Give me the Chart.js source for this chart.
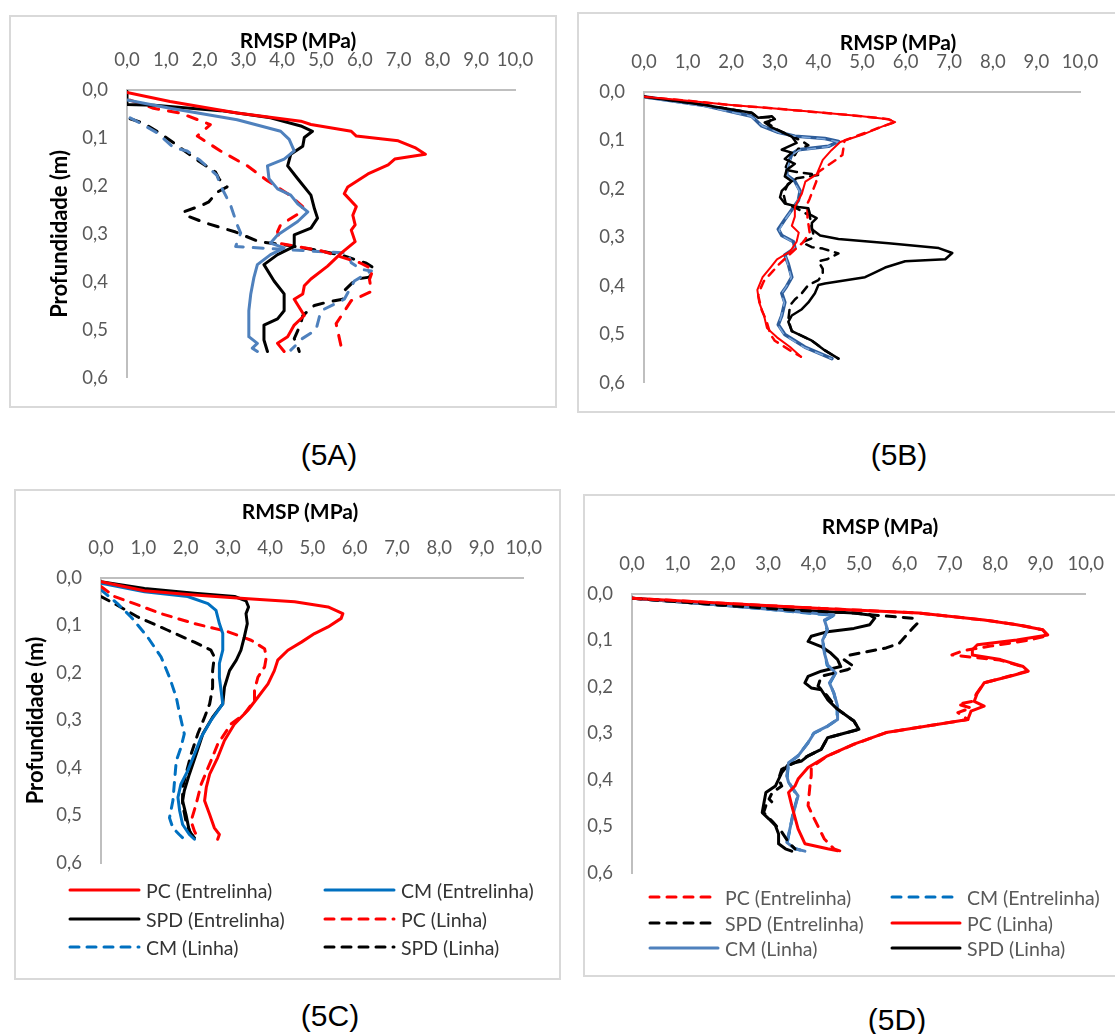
<!DOCTYPE html>
<html lang="pt">
<head>
<meta charset="utf-8">
<title>RMSP x Profundidade</title>
<script src="https://cdn.jsdelivr.net/npm/chart.js@4.4.1/dist/chart.umd.min.js"></script>
<style>
  html, body { margin: 0; padding: 0; background: #fff; }
  body { width: 1115px; height: 1034px; position: relative; overflow: hidden; font-family: Lato, "Open Sans", sans-serif; }
  .box { position: absolute; border: 2px solid #d9d9d9; box-sizing: border-box; }
  canvas.chart { position: absolute; }
  .xtitle { position: absolute; font-weight: bold; font-size: 21px; color: #000; transform: translate(-50%, -50%); white-space: nowrap; }
  .caption { position: absolute; font-family: "Liberation Sans", Arial, sans-serif; font-size: 30px; color: #000; transform: translate(-50%, -50%); }
  .leg { position: absolute; font-size: 19.5px; white-space: nowrap; }
  .leg svg { position: absolute; left: 0; top: 0; }
  .leg span { position: absolute; transform: translateY(-50%); }
</style>
</head>
<body>
<script>
const X_TICKS = ['0,0', '1,0', '2,0', '3,0', '4,0', '5,0', '6,0', '7,0', '8,0', '9,0', '10,0'];
const Y_TICKS = ['0,0', '0,1', '0,2', '0,3', '0,4', '0,5', '0,6'];
const SERIES_NAMES = ['PC (Entrelinha)', 'CM (Entrelinha)', 'SPD (Entrelinha)', 'PC (Linha)', 'CM (Linha)', 'SPD (Linha)'];

// [RMSP (MPa), profundidade (m)]
// 5A
const a_pcEnt = [[0,0.005],[1.11,0.024],[2.84,0.048],[4.48,0.065],[4.74,0.072],[5.78,0.086],[5.91,0.096],[6.99,0.106],[7.42,0.12],[7.69,0.134],[6.9,0.144],[6.73,0.156],[6.21,0.175],[5.69,0.202],[5.6,0.216],[5.91,0.243],[5.82,0.261],[5.88,0.281],[5.78,0.292],[5.88,0.316],[5.52,0.34],[5.17,0.367],[4.74,0.394],[4.57,0.408],[4.53,0.425],[4.31,0.436],[4.57,0.47],[4.31,0.49],[4.14,0.514],[3.88,0.528],[4.05,0.545]];
const a_cmEnt = [[0,0.021],[1.11,0.038],[2.84,0.062],[3.96,0.086],[4.18,0.103],[4.31,0.127],[4.05,0.144],[3.62,0.158],[3.66,0.185],[3.88,0.206],[4.22,0.219],[4.4,0.237],[4.66,0.254],[4.4,0.274],[3.88,0.302],[3.7,0.319],[4.05,0.329],[3.7,0.343],[3.36,0.364],[3.27,0.391],[3.19,0.425],[3.14,0.46],[3.14,0.514],[3.36,0.528],[3.23,0.538],[3.36,0.545]];
const a_spdEnt = [[0,0.003],[0,0.03],[0.7,0.032],[2.41,0.043],[3.7,0.058],[4.48,0.075],[4.78,0.086],[4.57,0.099],[4.53,0.117],[4.22,0.134],[4.14,0.158],[4.4,0.185],[4.74,0.219],[4.83,0.247],[4.91,0.267],[4.74,0.288],[4.31,0.302],[4.31,0.326],[3.88,0.343],[3.53,0.364],[3.79,0.398],[4.05,0.425],[4.05,0.46],[3.88,0.477],[3.53,0.49],[3.53,0.521],[3.62,0.545]];
const a_pcLin = [[0.08,0.021],[0.68,0.038],[1.37,0.048],[2.15,0.072],[1.81,0.096],[2.41,0.127],[3.1,0.158],[3.62,0.189],[4.14,0.216],[4.53,0.243],[4.5,0.254],[3.96,0.281],[3.88,0.295],[3.95,0.32],[5.0,0.335],[6.0,0.36],[6.34,0.374],[6.25,0.395],[6.3,0.42],[5.78,0.439],[5.39,0.487],[5.52,0.535],[5.57,0.545]];
const a_cmLin = [[0.08,0.058],[0.34,0.069],[0.77,0.089],[1.2,0.12],[1.55,0.127],[1.89,0.147],[2.32,0.178],[2.41,0.199],[2.67,0.24],[2.84,0.281],[2.93,0.298],[2.8,0.326],[4.2,0.333],[5.69,0.34],[5.78,0.36],[6.04,0.374],[6.3,0.377],[5.86,0.398],[5.6,0.436],[5.0,0.46],[4.87,0.5],[4.48,0.52],[4.4,0.528],[4.22,0.542]];
const a_spdLin = [[0.08,0.06],[0.42,0.069],[0.77,0.086],[1.2,0.11],[1.72,0.141],[2.28,0.171],[2.37,0.185],[2.58,0.202],[2.32,0.213],[2.11,0.233],[1.94,0.24],[1.46,0.254],[1.5,0.261],[2.06,0.278],[2.8,0.296],[3.4,0.316],[4.18,0.324],[4.83,0.333],[5.52,0.344],[6.17,0.361],[6.34,0.37],[6.25,0.39],[5.91,0.394],[5.6,0.418],[5.56,0.436],[5.17,0.442],[4.83,0.449],[4.53,0.47],[4.48,0.487],[4.31,0.518],[4.4,0.535],[4.44,0.545]];

// 5B
const b_pcEnt = [[0,0.01],[1,0.018],[2,0.027],[3,0.034],[4,0.042],[5,0.05],[5.6,0.056],[5.76,0.062],[5.5,0.07],[5.07,0.086],[4.5,0.103],[4.3,0.12],[4.1,0.14],[3.96,0.17],[3.7,0.185],[3.62,0.21],[3.46,0.237],[3.46,0.257],[3.39,0.276],[3.55,0.29],[3.5,0.309],[3.35,0.329],[3.05,0.345],[2.9,0.362],[2.72,0.382],[2.6,0.408],[2.64,0.434],[2.75,0.46],[2.82,0.487],[3.05,0.506],[3.35,0.526],[3.6,0.546]];
const b_cmEnt = [[0,0.01],[1.39,0.028],[2.47,0.05],[2.7,0.07],[3.08,0.083],[3.46,0.091],[4.15,0.096],[4.46,0.102],[4.23,0.112],[3.54,0.119],[3.39,0.128],[3.3,0.15],[3.27,0.171],[3.46,0.184],[3.58,0.204],[3.54,0.224],[3.39,0.243],[3.23,0.263],[3.08,0.283],[3.16,0.296],[3.43,0.309],[3.46,0.322],[3.23,0.336],[3.31,0.355],[3.39,0.382],[3.27,0.401],[3.16,0.415],[3.23,0.434],[3.16,0.461],[3.08,0.48],[3.23,0.5],[3.69,0.526],[4.31,0.55]];
const b_spdEnt = [[0,0.01],[1.39,0.027],[2.47,0.043],[2.62,0.053],[2.93,0.05],[3.0,0.056],[2.77,0.063],[2.93,0.073],[3.39,0.092],[3.5,0.105],[3.16,0.119],[3.39,0.125],[3.23,0.138],[3.46,0.148],[3.27,0.161],[3.23,0.174],[3.39,0.184],[3.16,0.204],[3.12,0.217],[3.23,0.23],[3.54,0.237],[3.77,0.24],[3.81,0.253],[3.96,0.26],[3.85,0.27],[3.85,0.283],[4.04,0.296],[4.46,0.303],[5.61,0.312],[6.76,0.322],[7.07,0.332],[6.91,0.345],[5.99,0.349],[5.53,0.362],[5.23,0.375],[5.07,0.382],[4.15,0.395],[4.0,0.398],[3.92,0.415],[3.77,0.434],[3.62,0.448],[3.39,0.461],[3.31,0.474],[3.39,0.493],[3.85,0.513],[4.15,0.533],[4.46,0.55]];
const b_pcLin = [[0,0.01],[1,0.018],[2,0.027],[3,0.034],[4,0.042],[5,0.05],[5.6,0.056],[5.76,0.062],[5.5,0.07],[5.2,0.08],[4.6,0.1],[4.55,0.13],[4.4,0.14],[4.0,0.165],[3.95,0.185],[3.8,0.22],[3.75,0.23],[3.75,0.26],[3.8,0.29],[3.65,0.31],[3.4,0.33],[3.1,0.355],[2.95,0.37],[2.75,0.39],[2.65,0.41],[2.62,0.42],[2.7,0.45],[2.8,0.47],[2.9,0.5],[3.0,0.513],[3.35,0.533],[3.6,0.546]];
const b_cmLin = [[0,0.012],[1.4,0.03],[2.45,0.05],[2.72,0.07],[3.1,0.084],[3.5,0.092],[4.15,0.097],[4.45,0.103],[4.2,0.113],[3.55,0.12],[3.4,0.13],[3.3,0.152],[3.28,0.172],[3.45,0.186],[3.57,0.205],[3.52,0.225],[3.38,0.245],[3.22,0.265],[3.1,0.285],[3.17,0.297],[3.42,0.31],[3.45,0.323],[3.24,0.337],[3.3,0.357],[3.38,0.383],[3.26,0.402],[3.15,0.416],[3.22,0.435],[3.15,0.462],[3.08,0.482],[3.22,0.501],[3.68,0.527],[4.3,0.55]];
const b_spdLin = [[0,0.01],[1.4,0.027],[2.47,0.043],[2.62,0.053],[2.95,0.052],[2.85,0.065],[3.0,0.075],[3.4,0.092],[3.6,0.1],[3.77,0.11],[3.54,0.117],[3.46,0.13],[3.3,0.145],[3.23,0.16],[3.5,0.165],[4.0,0.171],[3.5,0.178],[3.3,0.19],[3.2,0.21],[3.25,0.23],[3.5,0.24],[3.8,0.255],[3.85,0.28],[3.9,0.3],[3.62,0.31],[3.85,0.32],[4.1,0.323],[4.46,0.333],[4.2,0.345],[4.0,0.349],[4.1,0.365],[4.1,0.375],[4.0,0.388],[3.77,0.398],[3.62,0.415],[3.46,0.428],[3.35,0.44],[3.31,0.47],[3.39,0.493],[3.85,0.513],[4.15,0.533],[4.46,0.55]];

// 5C
const c_pcEnt = [[0,0.008],[1.03,0.027],[2.21,0.036],[3.39,0.043],[4.58,0.05],[5.37,0.061],[5.72,0.075],[5.68,0.085],[5.37,0.103],[5.05,0.117],[4.74,0.135],[4.42,0.152],[4.18,0.173],[4.1,0.195],[3.95,0.223],[3.71,0.251],[3.47,0.279],[3.16,0.307],[2.92,0.342],[2.76,0.378],[2.57,0.413],[2.49,0.441],[2.45,0.469],[2.57,0.498],[2.68,0.526],[2.8,0.54],[2.76,0.55]];
const c_cmEnt = [[0,0.011],[1.03,0.029],[2.05,0.039],[2.53,0.054],[2.72,0.068],[2.8,0.096],[2.88,0.117],[2.88,0.152],[2.8,0.18],[2.8,0.209],[2.84,0.237],[2.88,0.265],[2.6,0.3],[2.37,0.335],[2.21,0.371],[2.05,0.406],[1.89,0.434],[1.82,0.462],[1.86,0.49],[1.93,0.519],[2.09,0.54],[2.21,0.55]];
const c_spdEnt = [[0,0.008],[1.03,0.022],[2.21,0.032],[3.16,0.039],[3.43,0.048],[3.49,0.061],[3.43,0.075],[3.46,0.096],[3.39,0.124],[3.31,0.152],[3.2,0.173],[3.04,0.195],[2.92,0.23],[2.88,0.265],[2.64,0.293],[2.41,0.328],[2.25,0.371],[2.09,0.413],[1.97,0.448],[1.93,0.469],[2.01,0.498],[2.09,0.533],[2.21,0.547]];
const c_pcLin = [[0,0.018],[0.32,0.039],[0.79,0.054],[1.42,0.075],[2.21,0.096],[3.0,0.113],[3.55,0.131],[3.87,0.149],[3.91,0.166],[3.87,0.187],[3.71,0.209],[3.63,0.237],[3.63,0.258],[3.39,0.286],[3.08,0.307],[2.76,0.35],[2.6,0.385],[2.37,0.434],[2.25,0.476],[2.13,0.512],[2.21,0.533],[2.29,0.547]];
const c_cmLin = [[0,0.025],[0.39,0.054],[0.71,0.082],[1.1,0.124],[1.42,0.166],[1.62,0.209],[1.78,0.251],[1.86,0.286],[1.97,0.328],[1.89,0.357],[1.78,0.385],[1.74,0.427],[1.7,0.469],[1.62,0.505],[1.7,0.526],[1.85,0.54],[1.97,0.55]];
const c_spdLin = [[0,0.039],[0.32,0.054],[0.87,0.082],[1.58,0.11],[2.21,0.135],[2.6,0.152],[2.68,0.166],[2.64,0.195],[2.64,0.23],[2.57,0.265],[2.45,0.293],[2.29,0.328],[2.13,0.371],[2.01,0.413],[1.93,0.441],[1.93,0.476],[2.01,0.512],[2.13,0.54],[2.25,0.55]];

// 5D
const d_pcEnt = [[0,0.009],[2.0,0.02],[4.17,0.031],[6.32,0.041],[7.76,0.056],[8.5,0.066],[9.05,0.077],[9.16,0.09],[8.7,0.1],[7.9,0.112],[7.3,0.122],[7.05,0.131],[7.4,0.135],[8.1,0.142],[8.6,0.156],[8.7,0.166],[8.3,0.177],[7.76,0.191],[7.6,0.213],[7.5,0.231],[7.18,0.237],[7.47,0.245],[7.18,0.255],[7.4,0.27],[6.68,0.281],[5.6,0.298],[4.9,0.323],[4.31,0.348],[3.95,0.373],[3.95,0.39],[3.92,0.413],[3.88,0.455],[4.02,0.484],[4.24,0.527],[4.45,0.548],[4.6,0.553]];
const d_cmEnt = [[0,0.009],[2.0,0.024],[4.45,0.046],[4.25,0.057],[4.3,0.078],[4.2,0.1],[4.25,0.128],[4.3,0.153],[4.48,0.171],[4.36,0.192],[4.45,0.214],[4.52,0.242],[4.52,0.27],[4.3,0.285],[4.0,0.3],[3.87,0.321],[3.65,0.349],[3.45,0.364],[3.42,0.392],[3.46,0.406],[3.65,0.435],[3.55,0.471],[3.48,0.506],[3.42,0.535],[3.6,0.548],[3.8,0.553]];
const d_spdEnt = [[0,0.009],[2.01,0.024],[3.45,0.034],[4.89,0.041],[5.3,0.045],[6.18,0.052],[6.29,0.063],[6.18,0.074],[5.89,0.106],[5.6,0.116],[4.81,0.131],[4.67,0.141],[4.89,0.156],[4.74,0.163],[4.17,0.177],[4.1,0.198],[4.31,0.22],[4.53,0.248],[4.89,0.273],[5.0,0.291],[4.74,0.298],[4.31,0.309],[4.17,0.334],[3.74,0.355],[3.3,0.377],[3.23,0.398],[3.3,0.413],[3.09,0.427],[3.02,0.441],[3.09,0.448],[2.95,0.455],[2.9,0.47],[3.1,0.49],[3.3,0.512],[3.45,0.534],[3.59,0.548]];
const d_pcLin = [[0,0.009],[2.01,0.02],[4.17,0.031],[6.32,0.041],[7.76,0.056],[8.48,0.066],[9.05,0.077],[9.16,0.088],[8.48,0.099],[7.61,0.109],[7.5,0.12],[7.5,0.131],[8.12,0.141],[8.62,0.156],[8.73,0.166],[8.33,0.177],[7.76,0.191],[7.61,0.213],[7.54,0.231],[7.76,0.241],[7.47,0.252],[7.4,0.27],[6.68,0.281],[5.6,0.298],[4.89,0.323],[4.31,0.348],[3.88,0.373],[3.66,0.398],[3.59,0.413],[3.45,0.427],[3.52,0.455],[3.66,0.505],[3.81,0.537],[4.31,0.548],[4.53,0.552]];
const d_cmLin = [[0,0.009],[2.01,0.024],[4.45,0.045],[4.24,0.056],[4.31,0.077],[4.2,0.099],[4.24,0.127],[4.31,0.152],[4.49,0.17],[4.35,0.191],[4.45,0.213],[4.53,0.241],[4.53,0.27],[4.31,0.284],[4.02,0.298],[3.88,0.32],[3.66,0.348],[3.45,0.363],[3.41,0.391],[3.45,0.405],[3.66,0.434],[3.56,0.47],[3.48,0.505],[3.41,0.534],[3.59,0.548],[3.81,0.553]];
const d_spdLin = [[0,0.009],[2.01,0.024],[3.45,0.034],[4.89,0.041],[5.24,0.045],[5.35,0.052],[5.24,0.066],[4.89,0.074],[4.31,0.081],[3.95,0.091],[3.88,0.102],[4.17,0.113],[4.38,0.127],[4.53,0.141],[4.6,0.156],[4.17,0.166],[3.88,0.177],[3.81,0.191],[3.95,0.202],[4.17,0.206],[4.31,0.227],[4.53,0.248],[4.89,0.273],[5.0,0.291],[4.74,0.298],[4.31,0.309],[4.17,0.334],[3.88,0.348],[3.74,0.359],[3.45,0.366],[3.3,0.384],[3.16,0.413],[2.95,0.427],[2.91,0.448],[2.87,0.47],[3.02,0.484],[3.16,0.498],[3.23,0.516],[3.23,0.537],[3.38,0.548],[3.52,0.553]];

const RED = '#ff0000', BLACK = '#000000';

const panels = [
  {
    box: { x: 9, y: 15, w: 548, h: 393 }, area: { l: 127, t: 90, r: 515, b: 381 },
    title: { x: 298, y: 39 }, yTitle: true, yTitleX: 60, caption: { text: '(5A)', x: 329, y: 455 },
    series: [
      { data: a_pcEnt, color: RED, width: 3 },
      { data: a_cmEnt, color: '#4f81bd', width: 3 },
      { data: a_spdEnt, color: BLACK, width: 3 },
      { data: a_pcLin, color: RED, width: 3, dash: [10, 10] },
      { data: a_cmLin, color: '#4f81bd', width: 3, dash: [10, 10] },
      { data: a_spdLin, color: BLACK, width: 3, dash: [10, 10] }
    ]
  },
  {
    box: { x: 577, y: 12, w: 545, h: 401 }, area: { l: 644, t: 92, r: 1080, b: 396 },
    title: { x: 898, y: 41 }, yTitle: false, caption: { text: '(5B)', x: 899, y: 455 },
    series: [
      { data: b_pcEnt, color: RED, width: 2 },
      { data: b_cmEnt, color: '#2e5d9a', width: 3.5, order: 2 },
      { data: b_spdEnt, color: BLACK, width: 2.5 },
      { data: b_pcLin, color: RED, width: 2.5, dash: [8, 7] },
      { data: b_cmLin, color: '#7aa5da', width: 1.5, dash: [8, 7] },
      { data: b_spdLin, color: BLACK, width: 2.5, dash: [8, 7] }
    ]
  },
  {
    box: { x: 14, y: 489, w: 547, h: 491 }, area: { l: 101, t: 578, r: 524, b: 863 },
    title: { x: 300, y: 510 }, yTitle: true, yTitleX: 36, caption: { text: '(5C)', x: 330, y: 1016 },
    legend: { x1: 68, x2: 323, len: 69, rows: [890, 919, 947], color: '#333333' },
    series: [
      { data: c_pcEnt, color: RED, width: 3 },
      { data: c_cmEnt, color: '#0070c0', width: 3 },
      { data: c_spdEnt, color: BLACK, width: 3 },
      { data: c_pcLin, color: RED, width: 3, dash: [9, 8] },
      { data: c_cmLin, color: '#0070c0', width: 3, dash: [9, 8] },
      { data: c_spdLin, color: BLACK, width: 3, dash: [9, 8] }
    ]
  },
  {
    box: { x: 583, y: 494, w: 540, h: 483 }, area: { l: 632, t: 594, r: 1099, b: 873 },
    title: { x: 880, y: 525 }, yTitle: false, caption: { text: '(5D)', x: 897, y: 1020 },
    legend: { x1: 648, x2: 890, len: 68, rows: [897, 923, 948], color: '#595959' },
    series: [
      { data: d_pcEnt, color: RED, width: 3, dash: [9, 8] },
      { data: d_cmEnt, color: '#0070c0', width: 3, dash: [9, 8], order: 2 },
      { data: d_spdEnt, color: BLACK, width: 3, dash: [9, 8] },
      { data: d_pcLin, color: RED, width: 3 },
      { data: d_cmLin, color: '#4f81bd', width: 3 },
      { data: d_spdLin, color: BLACK, width: 3 }
    ]
  }
];

const tickFont = { family: 'Lato', size: 18.5 };

function addEl(tag, cls, css) {
  const el = document.createElement(tag);
  if (cls) el.className = cls;
  Object.assign(el.style, css || {});
  document.body.appendChild(el);
  return el;
}

function drawLegend(p) {
  const lg = p.legend;
  p.series.forEach((s, i) => {
    const col = i % 2, row = Math.floor(i / 2);
    const x = col === 0 ? lg.x1 : lg.x2, y = lg.rows[row];
    const item = addEl('div', 'leg', { left: x + 'px', top: (y - 10) + 'px', width: '240px', height: '20px', color: lg.color });
    const dash = s.dash ? `stroke-dasharray="${s.dash[0]} ${s.dash[1]}"` : '';
    item.innerHTML = `<svg width="${lg.len + 4}" height="20"><line x1="2" y1="10" x2="${lg.len + 2}" y2="10" stroke="${s.color}" stroke-width="${s.width}" stroke-linecap="round" ${dash}/></svg>` +
      `<span style="left:${lg.len + 9}px; top:10px">${SERIES_NAMES[i]}</span>`;
  });
}

panels.forEach(p => {
  const { box, area } = p;
  addEl('div', 'box', { left: box.x + 'px', top: box.y + 'px', width: box.w + 'px', height: box.h + 'px' });

  const padLeft = p.yTitle ? Math.max(0, p.yTitleX - box.x - 13) : 0;
  const yWidth = area.l - box.x - padLeft;
  const xHeight = area.t - box.y;

  const canvas = addEl('canvas', 'chart', { left: box.x + 'px', top: box.y + 'px' });
  canvas.width = box.w;
  canvas.height = box.h;

  new Chart(canvas, {
    type: 'scatter',
    data: {
      datasets: p.series.map((s, i) => ({
        label: SERIES_NAMES[i],
        data: s.data.map(([x, y]) => ({ x, y })),
        showLine: true,
        borderColor: s.color,
        backgroundColor: s.color,
        borderWidth: s.width,
        borderDash: s.dash || [],
        borderCapStyle: 'round',
        borderJoinStyle: 'round',
        pointRadius: 0,
        pointHoverRadius: 0,
        fill: false,
        order: s.order || 0
      }))
    },
    options: {
      responsive: false,
      animation: false,
      events: [],
      layout: { padding: { left: padLeft, top: 0, right: box.x + box.w - area.r, bottom: box.y + box.h - area.b } },
      plugins: { legend: { display: false }, tooltip: { enabled: false } },
      scales: {
        x: {
          type: 'linear', position: 'top', min: 0, max: 10,
          grid: { display: false, drawTicks: false },
          border: { display: true, color: '#bfbfbf', width: 2 },
          ticks: { stepSize: 1, autoSkip: false, padding: 19, color: '#595959', font: tickFont, maxRotation: 0, minRotation: 0, callback: v => X_TICKS[Math.round(v)] },
          afterFit: s => { s.height = xHeight; }
        },
        y: {
          type: 'linear', reverse: true, min: 0, max: 0.6,
          grid: { display: false, drawTicks: false },
          border: { display: true, color: '#bfbfbf', width: 2 },
          ticks: { stepSize: 0.1, autoSkip: false, padding: 19, color: '#595959', font: tickFont, callback: v => Y_TICKS[Math.round(v * 10)] },
          title: { display: p.yTitle, text: 'Profundidade (m)', color: '#000', font: { family: 'Lato', size: 22, weight: 'bold' }, padding: 0 },
          afterFit: s => { s.width = yWidth; }
        }
      }
    }
  });

  const t = addEl('div', 'xtitle', { left: p.title.x + 'px', top: p.title.y + 'px' });
  t.textContent = 'RMSP (MPa)';
  const c = addEl('div', 'caption', { left: p.caption.x + 'px', top: p.caption.y + 'px' });
  c.textContent = p.caption.text;
  if (p.legend) drawLegend(p);
});
</script>
</body>
</html>
